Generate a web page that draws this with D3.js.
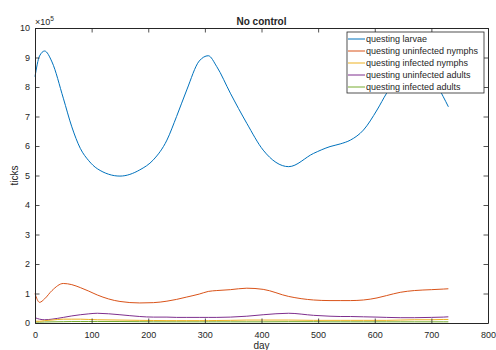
<!DOCTYPE html>
<html>
<head>
<meta charset="utf-8">
<script src="https://cdn.jsdelivr.net/npm/d3@7"></script>
<style>
  body { margin: 0; background: #fff; }
  svg text { font-family: "Liberation Sans", Helvetica, Arial, sans-serif; fill: #262626; }
</style>
</head>
<body>
<svg width="496" height="350"></svg>
<script>
// datos (valores en unidades de 1e5)
let days = [0, 8, 17, 30, 50, 65, 80, 95, 110, 150, 185, 209, 233, 250, 268, 290, 306, 321, 345, 374, 403, 448, 492, 521, 539, 557, 580, 604, 621, 645, 670, 700, 721, 730];
let larvae      = [8.35, 9.05, 9.22, 8.85, 7.62, 6.65, 5.92, 5.5, 5.23, 4.98, 5.19, 5.53, 6.2, 7.0, 7.9, 8.88, 9.06, 8.69, 7.79, 6.77, 5.86, 5.30, 5.75, 5.98, 6.07, 6.2, 6.54, 7.22, 7.79, 8.4, 8.6, 8.35, 7.67, 7.33];
let uninfNymphs = [1.0, 0.70, 0.82, 1.1, 1.34, 1.3, 1.2, 1.08, 0.95, 0.73, 0.68, 0.69, 0.74, 0.8, 0.88, 0.98, 1.07, 1.1, 1.13, 1.18, 1.14, 0.9, 0.78, 0.76, 0.76, 0.76, 0.78, 0.85, 0.93, 1.04, 1.1, 1.13, 1.15, 1.16];
let infNymphs   = [0.06, 0.06, 0.08, 0.1, 0.13, 0.13, 0.13, 0.12, 0.11, 0.1, 0.09, 0.085, 0.08, 0.08, 0.08, 0.08, 0.08, 0.085, 0.09, 0.1, 0.1, 0.1, 0.09, 0.09, 0.09, 0.09, 0.09, 0.09, 0.09, 0.1, 0.11, 0.11, 0.12, 0.12];
let uninfAdults = [0.18, 0.13, 0.11, 0.13, 0.19, 0.24, 0.28, 0.31, 0.33, 0.28, 0.22, 0.2, 0.2, 0.19, 0.19, 0.19, 0.19, 0.19, 0.2, 0.23, 0.28, 0.33, 0.26, 0.23, 0.22, 0.22, 0.21, 0.2, 0.19, 0.18, 0.18, 0.19, 0.2, 0.21];
let infAdults   = [0.03, 0.03, 0.035, 0.04, 0.045, 0.05, 0.05, 0.05, 0.05, 0.05, 0.045, 0.04, 0.04, 0.04, 0.04, 0.04, 0.04, 0.04, 0.04, 0.04, 0.04, 0.045, 0.045, 0.04, 0.04, 0.04, 0.04, 0.04, 0.04, 0.04, 0.04, 0.04, 0.04, 0.04];

let names  = ['questing larvae', 'questing uninfected nymphs', 'questing infected nymphs', 'questing uninfected adults', 'questing infected adults'];
let colors = ['#0072BD', '#D95319', '#EDB120', '#7E2F8E', '#77AC30'];
let series = [larvae, uninfNymphs, infNymphs, uninfAdults, infAdults];

let xTicks = [0, 100, 200, 300, 400, 500, 600, 700, 800];
let yTicks = [0, 1, 2, 3, 4, 5, 6, 7, 8, 9, 10];

let svg = d3.select('svg');
let mLeft = 35, mRight = 488, mTop = 28, mBottom = 323;
let axisColor = '#262626';

let x = d3.scaleLinear().domain([0, 800]).range([mLeft, mRight]);
let y = d3.scaleLinear().domain([0, 10]).range([mBottom, mTop]);

// lineas de datos
let line = d3.line()
    .x((d, i) => x(days[i]))
    .y(d => y(d))
    .curve(d3.curveMonotoneX);

// se dibujan en orden inverso para que la azul quede encima
series.slice().reverse().forEach(function (s, j) {
    let i = series.length - 1 - j;
    svg.append('path')
        .datum(s)
        .attr('d', line)
        .attr('fill', 'none')
        .attr('stroke', colors[i])
        .attr('stroke-width', 1);
});

// ejes con ticks hacia dentro
let xb = svg.append('g').attr('transform', 'translate(0,' + mBottom + ')')
    .call(d3.axisBottom(x).tickValues(xTicks).tickSizeInner(-4.5).tickSizeOuter(0).tickPadding(9));
let xt = svg.append('g').attr('transform', 'translate(0,' + mTop + ')')
    .call(d3.axisTop(x).tickValues(xTicks).tickSizeInner(-4.5).tickSizeOuter(0).tickFormat(''));
let yl = svg.append('g').attr('transform', 'translate(' + mLeft + ',0)')
    .call(d3.axisLeft(y).tickValues(yTicks).tickSizeInner(-4.5).tickSizeOuter(0).tickPadding(5));
let yr = svg.append('g').attr('transform', 'translate(' + mRight + ',0)')
    .call(d3.axisRight(y).tickValues(yTicks).tickSizeInner(-4.5).tickSizeOuter(0).tickFormat(''));

[xb, xt, yl, yr].forEach(function (g) {
    g.selectAll('path').attr('stroke', axisColor).attr('stroke-width', 1);
    g.selectAll('line').attr('stroke', axisColor).attr('stroke-width', 0.8);
    g.selectAll('text').style('font-size', '9px').attr('fill', axisColor);
});

// exponente
let ex = svg.append('text').attr('x', mLeft).attr('y', 25).style('font-size', '9px');
ex.append('tspan').text('\u00d710');
ex.append('tspan').attr('dy', -4).style('font-size', '6.5px').text('5');

// titulo y etiquetas
svg.append('text').attr('x', (mLeft + mRight) / 2).attr('y', 25)
    .attr('text-anchor', 'middle').style('font-size', '10px').style('font-weight', 'bold')
    .text('No control');
svg.append('text').attr('x', (mLeft + mRight) / 2).attr('y', 349)
    .attr('text-anchor', 'middle').style('font-size', '10px').text('day');
svg.append('text').attr('transform', 'translate(18,' + ((mTop + mBottom) / 2) + ') rotate(-90)')
    .attr('text-anchor', 'middle').style('font-size', '10px').text('ticks');

// leyenda
let lg = svg.append('g').attr('transform', 'translate(347,32)');
lg.append('rect').attr('width', 137).attr('height', 61)
    .attr('fill', '#fff').attr('stroke', axisColor).attr('stroke-width', 0.8);
names.forEach(function (n, i) {
    let yy = 7 + i * 12;
    lg.append('line').attr('x1', 1).attr('x2', 18).attr('y1', yy).attr('y2', yy)
        .attr('stroke', colors[i]).attr('stroke-width', 1);
    lg.append('text').attr('x', 19).attr('y', yy + 3).style('font-size', '9px').text(n);
});
</script>
</body>
</html>
